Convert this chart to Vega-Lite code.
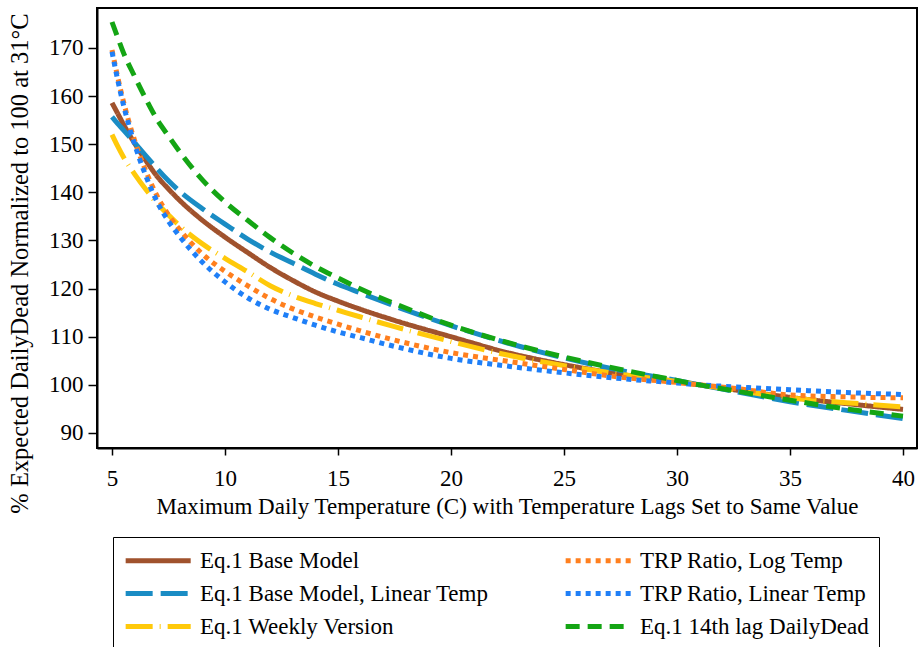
{
  "$schema": "https://vega.github.io/schema/vega-lite/v6.json",
  "width": 820,
  "height": 440,
  "autosize": "none",
  "padding": {"left": 97, "top": 8, "right": 4, "bottom": 199},
  "background": "white",
  "config": {
    "font": "Liberation Serif",
    "view": {"stroke": "black", "strokeWidth": 2},
    "axis": {
      "grid": false,
      "domainColor": "black",
      "domainWidth": 2,
      "tickColor": "black",
      "tickWidth": 1.5,
      "labelColor": "black",
      "titleColor": "black",
      "labelFont": "Liberation Serif",
      "titleFont": "Liberation Serif",
      "labelFontSize": 23,
      "titleFontSize": 23,
      "titleFontWeight": "normal"
    }
  },
  "data": {
    "values": [
      {"t": 5, "v": 158.6, "s": "Eq.1 Base Model"},
      {"t": 5.25, "v": 156.4, "s": "Eq.1 Base Model"},
      {"t": 5.5, "v": 154.2, "s": "Eq.1 Base Model"},
      {"t": 6, "v": 150.2, "s": "Eq.1 Base Model"},
      {"t": 6.5, "v": 146.6, "s": "Eq.1 Base Model"},
      {"t": 7, "v": 143.3, "s": "Eq.1 Base Model"},
      {"t": 7.5, "v": 140.7, "s": "Eq.1 Base Model"},
      {"t": 8, "v": 138.3, "s": "Eq.1 Base Model"},
      {"t": 9, "v": 134.2, "s": "Eq.1 Base Model"},
      {"t": 10, "v": 130.7, "s": "Eq.1 Base Model"},
      {"t": 11, "v": 127.5, "s": "Eq.1 Base Model"},
      {"t": 12, "v": 124.4, "s": "Eq.1 Base Model"},
      {"t": 13, "v": 121.7, "s": "Eq.1 Base Model"},
      {"t": 14, "v": 119.3, "s": "Eq.1 Base Model"},
      {"t": 15, "v": 117.4, "s": "Eq.1 Base Model"},
      {"t": 16, "v": 115.7, "s": "Eq.1 Base Model"},
      {"t": 17.5, "v": 113.4, "s": "Eq.1 Base Model"},
      {"t": 20, "v": 110.0, "s": "Eq.1 Base Model"},
      {"t": 22.5, "v": 106.7, "s": "Eq.1 Base Model"},
      {"t": 25, "v": 104.2, "s": "Eq.1 Base Model"},
      {"t": 27.5, "v": 102.2, "s": "Eq.1 Base Model"},
      {"t": 30, "v": 100.7, "s": "Eq.1 Base Model"},
      {"t": 31, "v": 100.0, "s": "Eq.1 Base Model"},
      {"t": 32.5, "v": 99.0, "s": "Eq.1 Base Model"},
      {"t": 35, "v": 97.4, "s": "Eq.1 Base Model"},
      {"t": 37.5, "v": 96.1, "s": "Eq.1 Base Model"},
      {"t": 40, "v": 94.9, "s": "Eq.1 Base Model"},

      {"t": 5, "v": 155.7, "s": "Eq.1 Base Model, Linear Temp"},
      {"t": 5.25, "v": 154.3, "s": "Eq.1 Base Model, Linear Temp"},
      {"t": 5.5, "v": 153.0, "s": "Eq.1 Base Model, Linear Temp"},
      {"t": 6, "v": 150.3, "s": "Eq.1 Base Model, Linear Temp"},
      {"t": 6.5, "v": 147.6, "s": "Eq.1 Base Model, Linear Temp"},
      {"t": 7, "v": 144.9, "s": "Eq.1 Base Model, Linear Temp"},
      {"t": 7.5, "v": 142.4, "s": "Eq.1 Base Model, Linear Temp"},
      {"t": 8, "v": 140.2, "s": "Eq.1 Base Model, Linear Temp"},
      {"t": 9, "v": 136.6, "s": "Eq.1 Base Model, Linear Temp"},
      {"t": 10, "v": 133.4, "s": "Eq.1 Base Model, Linear Temp"},
      {"t": 11, "v": 130.3, "s": "Eq.1 Base Model, Linear Temp"},
      {"t": 12, "v": 127.6, "s": "Eq.1 Base Model, Linear Temp"},
      {"t": 13, "v": 125.3, "s": "Eq.1 Base Model, Linear Temp"},
      {"t": 14, "v": 123.0, "s": "Eq.1 Base Model, Linear Temp"},
      {"t": 15, "v": 120.9, "s": "Eq.1 Base Model, Linear Temp"},
      {"t": 16, "v": 119.1, "s": "Eq.1 Base Model, Linear Temp"},
      {"t": 17.5, "v": 116.4, "s": "Eq.1 Base Model, Linear Temp"},
      {"t": 20, "v": 112.3, "s": "Eq.1 Base Model, Linear Temp"},
      {"t": 22.5, "v": 108.7, "s": "Eq.1 Base Model, Linear Temp"},
      {"t": 25, "v": 105.6, "s": "Eq.1 Base Model, Linear Temp"},
      {"t": 27.5, "v": 103.0, "s": "Eq.1 Base Model, Linear Temp"},
      {"t": 30, "v": 100.9, "s": "Eq.1 Base Model, Linear Temp"},
      {"t": 31, "v": 100.0, "s": "Eq.1 Base Model, Linear Temp"},
      {"t": 32.5, "v": 98.7, "s": "Eq.1 Base Model, Linear Temp"},
      {"t": 35, "v": 96.5, "s": "Eq.1 Base Model, Linear Temp"},
      {"t": 37.5, "v": 94.7, "s": "Eq.1 Base Model, Linear Temp"},
      {"t": 40, "v": 93.0, "s": "Eq.1 Base Model, Linear Temp"},

      {"t": 5, "v": 152.0, "s": "Eq.1 Weekly Version"},
      {"t": 5.25, "v": 149.6, "s": "Eq.1 Weekly Version"},
      {"t": 5.5, "v": 147.4, "s": "Eq.1 Weekly Version"},
      {"t": 6, "v": 143.8, "s": "Eq.1 Weekly Version"},
      {"t": 6.5, "v": 140.6, "s": "Eq.1 Weekly Version"},
      {"t": 7, "v": 137.7, "s": "Eq.1 Weekly Version"},
      {"t": 7.5, "v": 135.3, "s": "Eq.1 Weekly Version"},
      {"t": 8, "v": 133.0, "s": "Eq.1 Weekly Version"},
      {"t": 9, "v": 129.3, "s": "Eq.1 Weekly Version"},
      {"t": 10, "v": 126.3, "s": "Eq.1 Weekly Version"},
      {"t": 11, "v": 123.5, "s": "Eq.1 Weekly Version"},
      {"t": 12, "v": 120.6, "s": "Eq.1 Weekly Version"},
      {"t": 13, "v": 118.5, "s": "Eq.1 Weekly Version"},
      {"t": 14, "v": 116.9, "s": "Eq.1 Weekly Version"},
      {"t": 15, "v": 115.5, "s": "Eq.1 Weekly Version"},
      {"t": 16, "v": 114.1, "s": "Eq.1 Weekly Version"},
      {"t": 17.5, "v": 112.1, "s": "Eq.1 Weekly Version"},
      {"t": 20, "v": 109.0, "s": "Eq.1 Weekly Version"},
      {"t": 22.5, "v": 106.2, "s": "Eq.1 Weekly Version"},
      {"t": 25, "v": 104.0, "s": "Eq.1 Weekly Version"},
      {"t": 27.5, "v": 102.2, "s": "Eq.1 Weekly Version"},
      {"t": 30, "v": 100.7, "s": "Eq.1 Weekly Version"},
      {"t": 31, "v": 100.0, "s": "Eq.1 Weekly Version"},
      {"t": 32.5, "v": 99.0, "s": "Eq.1 Weekly Version"},
      {"t": 35, "v": 97.3, "s": "Eq.1 Weekly Version"},
      {"t": 37.5, "v": 96.3, "s": "Eq.1 Weekly Version"},
      {"t": 40, "v": 95.4, "s": "Eq.1 Weekly Version"},

      {"t": 5, "v": 169.6, "s": "TRP Ratio, Log Temp"},
      {"t": 5.25, "v": 164.0, "s": "TRP Ratio, Log Temp"},
      {"t": 5.5, "v": 159.0, "s": "TRP Ratio, Log Temp"},
      {"t": 6, "v": 150.8, "s": "TRP Ratio, Log Temp"},
      {"t": 6.5, "v": 144.4, "s": "TRP Ratio, Log Temp"},
      {"t": 7, "v": 139.2, "s": "TRP Ratio, Log Temp"},
      {"t": 7.5, "v": 135.3, "s": "TRP Ratio, Log Temp"},
      {"t": 8, "v": 132.2, "s": "TRP Ratio, Log Temp"},
      {"t": 9, "v": 127.2, "s": "TRP Ratio, Log Temp"},
      {"t": 10, "v": 123.6, "s": "TRP Ratio, Log Temp"},
      {"t": 11, "v": 120.6, "s": "TRP Ratio, Log Temp"},
      {"t": 12, "v": 117.9, "s": "TRP Ratio, Log Temp"},
      {"t": 13, "v": 115.8, "s": "TRP Ratio, Log Temp"},
      {"t": 14, "v": 114.1, "s": "TRP Ratio, Log Temp"},
      {"t": 15, "v": 112.6, "s": "TRP Ratio, Log Temp"},
      {"t": 16, "v": 111.2, "s": "TRP Ratio, Log Temp"},
      {"t": 17.5, "v": 109.3, "s": "TRP Ratio, Log Temp"},
      {"t": 20, "v": 106.7, "s": "TRP Ratio, Log Temp"},
      {"t": 22.5, "v": 104.9, "s": "TRP Ratio, Log Temp"},
      {"t": 25, "v": 103.2, "s": "TRP Ratio, Log Temp"},
      {"t": 27.5, "v": 101.6, "s": "TRP Ratio, Log Temp"},
      {"t": 30, "v": 100.5, "s": "TRP Ratio, Log Temp"},
      {"t": 31, "v": 100.0, "s": "TRP Ratio, Log Temp"},
      {"t": 32.5, "v": 99.3, "s": "TRP Ratio, Log Temp"},
      {"t": 35, "v": 97.9, "s": "TRP Ratio, Log Temp"},
      {"t": 37.5, "v": 97.5, "s": "TRP Ratio, Log Temp"},
      {"t": 40, "v": 97.3, "s": "TRP Ratio, Log Temp"},

      {"t": 5, "v": 169.2, "s": "TRP Ratio, Linear Temp"},
      {"t": 5.25, "v": 163.4, "s": "TRP Ratio, Linear Temp"},
      {"t": 5.5, "v": 158.3, "s": "TRP Ratio, Linear Temp"},
      {"t": 6, "v": 150.0, "s": "TRP Ratio, Linear Temp"},
      {"t": 6.5, "v": 143.4, "s": "TRP Ratio, Linear Temp"},
      {"t": 7, "v": 138.0, "s": "TRP Ratio, Linear Temp"},
      {"t": 7.5, "v": 134.0, "s": "TRP Ratio, Linear Temp"},
      {"t": 8, "v": 130.8, "s": "TRP Ratio, Linear Temp"},
      {"t": 9, "v": 125.5, "s": "TRP Ratio, Linear Temp"},
      {"t": 10, "v": 121.4, "s": "TRP Ratio, Linear Temp"},
      {"t": 11, "v": 118.1, "s": "TRP Ratio, Linear Temp"},
      {"t": 12, "v": 115.7, "s": "TRP Ratio, Linear Temp"},
      {"t": 13, "v": 114.0, "s": "TRP Ratio, Linear Temp"},
      {"t": 14, "v": 112.4, "s": "TRP Ratio, Linear Temp"},
      {"t": 15, "v": 111.0, "s": "TRP Ratio, Linear Temp"},
      {"t": 16, "v": 109.8, "s": "TRP Ratio, Linear Temp"},
      {"t": 17.5, "v": 108.0, "s": "TRP Ratio, Linear Temp"},
      {"t": 20, "v": 105.5, "s": "TRP Ratio, Linear Temp"},
      {"t": 22.5, "v": 103.9, "s": "TRP Ratio, Linear Temp"},
      {"t": 25, "v": 102.5, "s": "TRP Ratio, Linear Temp"},
      {"t": 27.5, "v": 101.3, "s": "TRP Ratio, Linear Temp"},
      {"t": 30, "v": 100.4, "s": "TRP Ratio, Linear Temp"},
      {"t": 31, "v": 100.0, "s": "TRP Ratio, Linear Temp"},
      {"t": 32.5, "v": 99.6, "s": "TRP Ratio, Linear Temp"},
      {"t": 35, "v": 99.0, "s": "TRP Ratio, Linear Temp"},
      {"t": 37.5, "v": 98.4, "s": "TRP Ratio, Linear Temp"},
      {"t": 40, "v": 98.0, "s": "TRP Ratio, Linear Temp"},

      {"t": 5, "v": 175.4, "s": "Eq.1 14th lag DailyDead"},
      {"t": 5.25, "v": 172.2, "s": "Eq.1 14th lag DailyDead"},
      {"t": 5.5, "v": 169.1, "s": "Eq.1 14th lag DailyDead"},
      {"t": 6, "v": 164.1, "s": "Eq.1 14th lag DailyDead"},
      {"t": 6.5, "v": 159.4, "s": "Eq.1 14th lag DailyDead"},
      {"t": 7, "v": 155.1, "s": "Eq.1 14th lag DailyDead"},
      {"t": 7.5, "v": 151.7, "s": "Eq.1 14th lag DailyDead"},
      {"t": 8, "v": 148.4, "s": "Eq.1 14th lag DailyDead"},
      {"t": 9, "v": 142.6, "s": "Eq.1 14th lag DailyDead"},
      {"t": 10, "v": 138.0, "s": "Eq.1 14th lag DailyDead"},
      {"t": 11, "v": 134.2, "s": "Eq.1 14th lag DailyDead"},
      {"t": 12, "v": 130.6, "s": "Eq.1 14th lag DailyDead"},
      {"t": 13, "v": 127.4, "s": "Eq.1 14th lag DailyDead"},
      {"t": 14, "v": 124.6, "s": "Eq.1 14th lag DailyDead"},
      {"t": 15, "v": 122.2, "s": "Eq.1 14th lag DailyDead"},
      {"t": 16, "v": 119.9, "s": "Eq.1 14th lag DailyDead"},
      {"t": 17.5, "v": 116.9, "s": "Eq.1 14th lag DailyDead"},
      {"t": 20, "v": 112.4, "s": "Eq.1 14th lag DailyDead"},
      {"t": 22.5, "v": 108.8, "s": "Eq.1 14th lag DailyDead"},
      {"t": 25, "v": 105.8, "s": "Eq.1 14th lag DailyDead"},
      {"t": 27.5, "v": 103.2, "s": "Eq.1 14th lag DailyDead"},
      {"t": 30, "v": 100.9, "s": "Eq.1 14th lag DailyDead"},
      {"t": 31, "v": 100.0, "s": "Eq.1 14th lag DailyDead"},
      {"t": 32.5, "v": 98.8, "s": "Eq.1 14th lag DailyDead"},
      {"t": 35, "v": 96.8, "s": "Eq.1 14th lag DailyDead"},
      {"t": 37.5, "v": 95.0, "s": "Eq.1 14th lag DailyDead"},
      {"t": 40, "v": 93.5, "s": "Eq.1 14th lag DailyDead"}
    ]
  },
  "mark": {"type": "line", "strokeWidth": 5, "interpolate": "monotone", "clip": true},
  "encoding": {
    "x": {
      "field": "t",
      "type": "quantitative",
      "scale": {"domain": [4.336, 40.62], "nice": false, "zero": false},
      "axis": {
        "values": [5, 10, 15, 20, 25, 30, 35, 40],
        "title": "Maximum Daily Temperature (C) with Temperature Lags Set to Same Value",
        "tickSize": 7,
        "labelPadding": 12,
        "titlePadding": 5
      }
    },
    "y": {
      "field": "v",
      "type": "quantitative",
      "scale": {"domain": [86.88, 178.31], "nice": false, "zero": false},
      "axis": {
        "values": [90, 100, 110, 120, 130, 140, 150, 160, 170],
        "title": "% Expected DailyDead Normalized to 100 at 31°C",
        "titleFontSize": 24.5,
        "tickSize": 9,
        "labelPadding": 5,
        "titlePadding": 16,
        "titleY": 255
      }
    },
    "color": {
      "field": "s",
      "type": "nominal",
      "sort": null,
      "scale": {
        "domain": ["Eq.1 Base Model", "Eq.1 Base Model, Linear Temp", "Eq.1 Weekly Version", "TRP Ratio, Log Temp", "TRP Ratio, Linear Temp", "Eq.1 14th lag DailyDead"],
        "range": ["#a0522d", "#1a8cc4", "#ffc90a", "#ff7f1e", "#1f7ff7", "#14a514"]
      },
      "legend": {
        "orient": "none",
        "legendX": 16,
        "legendY": 529,
        "columns": 2,
        "columnPadding": 66,
        "rowPadding": 7,
        "padding": 10,
        "strokeColor": "black",
        "fillColor": "white",
        "title": null,
        "symbolType": "M-1,0H5",
        "symbolSize": 470,
        "symbolStrokeWidth": 5,
        "labelFont": "Liberation Serif",
        "labelFontSize": 23,
        "labelColor": "black",
        "labelOffset": 50,
        "labelLimit": 500
      }
    },
    "strokeDash": {
      "field": "s",
      "type": "nominal",
      "sort": null,
      "scale": {
        "domain": ["Eq.1 Base Model", "Eq.1 Base Model, Linear Temp", "Eq.1 Weekly Version", "TRP Ratio, Log Temp", "TRP Ratio, Linear Temp", "Eq.1 14th lag DailyDead"],
        "range": [[1, 0], [27, 8], [27, 7, 1, 7], [5, 5], [5, 5], [14, 8]]
      }
    }
  }
}
